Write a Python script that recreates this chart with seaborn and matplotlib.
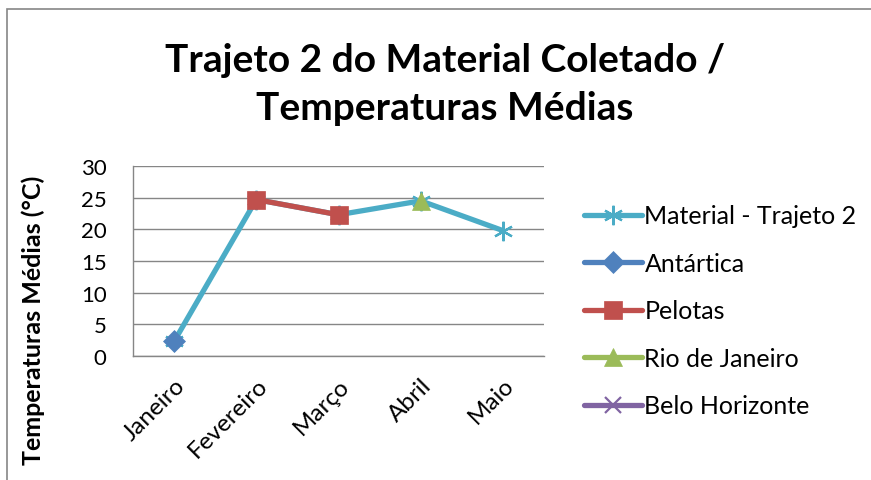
import matplotlib
matplotlib.use("Agg")
import matplotlib.pyplot as plt
from matplotlib.lines import Line2D
from matplotlib.patches import Rectangle
import seaborn as sns
import pandas as pd

months = ["Janeiro", "Fevereiro", "Março", "Abril", "Maio"]
material = [2.3, 24.7, 22.3, 24.5, 19.8]
antartica_months = ["Janeiro"]
antartica = [2.3]
pelotas_months = ["Fevereiro", "Março"]
pelotas = [24.7, 22.3]
rio_months = ["Abril"]
rio = [24.5]
bh_months = []
bh = []

series_names = ["Material - Trajeto 2", "Antártica", "Pelotas", "Rio de Janeiro", "Belo Horizonte"]
colors = ["#4BACC6", "#4F81BD", "#C0504D", "#9BBB59", "#8064A2"]
markers = [(6, 2, 0), "D", "s", "^", "x"]
msizes = [14, 11, 13, 13, 12]

sns.set_theme(style="white")
plt.rcParams["font.family"] = ["Lato", "DejaVu Sans"]
plt.rcParams["text.color"] = "black"
plt.rcParams["xtick.color"] = "black"
plt.rcParams["ytick.color"] = "black"

fig = plt.figure(figsize=(8.71, 4.81), dpi=100)
ax = fig.add_axes([133 / 871, 1 - 357 / 481, 411 / 871, 190 / 481])

data = [(months, material), (antartica_months, antartica), (pelotas_months, pelotas),
        (rio_months, rio), (bh_months, bh)]
pos = {m: i for i, m in enumerate(months)}


def mew(mk):
    return 1.6 if mk in [(6, 2, 0), "x"] else 0.5


for (ms, vals), name, c, mk, sz in zip(data, series_names, colors, markers, msizes):
    if not ms:
        continue
    df = pd.DataFrame({"x": [pos[m] for m in ms], "y": vals})
    sns.lineplot(data=df, x="x", y="y", ax=ax, color=c, linewidth=3.8, marker=mk,
                 markersize=sz, markeredgecolor=c, markeredgewidth=mew(mk),
                 zorder=3, legend=False)

ax.set_xlim(-0.5, len(months) - 0.5)
ax.set_ylim(0, 30)
ax.set_yticks(range(0, 31, 5))
ax.set_xticks(range(len(months)))
ax.set_xticklabels(months, rotation=45, ha="right", rotation_mode="anchor", fontsize=17.5)
ax.tick_params(axis="y", labelsize=16, length=0, pad=19)
ax.tick_params(axis="x", length=0, pad=13)
ax.set_xlabel("")
ax.set_ylabel("")
ax.grid(axis="y", color="#868686", linewidth=1.0)
ax.set_axisbelow(True)
for s in ["top", "right"]:
    ax.spines[s].set_visible(False)
for s in ["left", "bottom"]:
    ax.spines[s].set_color("#868686")
    ax.spines[s].set_linewidth(1.0)

fig.text(445 / 871, 1 - 60 / 481, "Trajeto 2 do Material Coletado /", ha="center", va="center",
         fontsize=28, fontweight="bold")
fig.text(445 / 871, 1 - 109 / 481, "Temperaturas Médias", ha="center", va="center",
         fontsize=28, fontweight="bold")
fig.text(33 / 871, 1 - 320 / 481, "Temperaturas Médias (°C)", rotation=90, ha="center", va="center",
         fontsize=18, fontweight="bold")

handles = [Line2D([0], [0], color=c, linewidth=3.8, marker=mk, markersize=sz, markeredgecolor=c,
                  markeredgewidth=mew(mk))
           for c, mk, sz in zip(colors, markers, msizes)]
fig.legend(handles, series_names, loc="center left", bbox_to_anchor=(584 / 871, 1 - 312 / 481),
           frameon=False, fontsize=18, handlelength=2.3, handletextpad=0.12, labelspacing=0.98,
           borderpad=0, borderaxespad=0)

fig.add_artist(Rectangle((7 / 871, -0.1), 1.5, 1.1 - 10 / 481, transform=fig.transFigure,
                         fill=False, edgecolor="#868686", linewidth=1.2))

fig.savefig("out.png", dpi=100)
